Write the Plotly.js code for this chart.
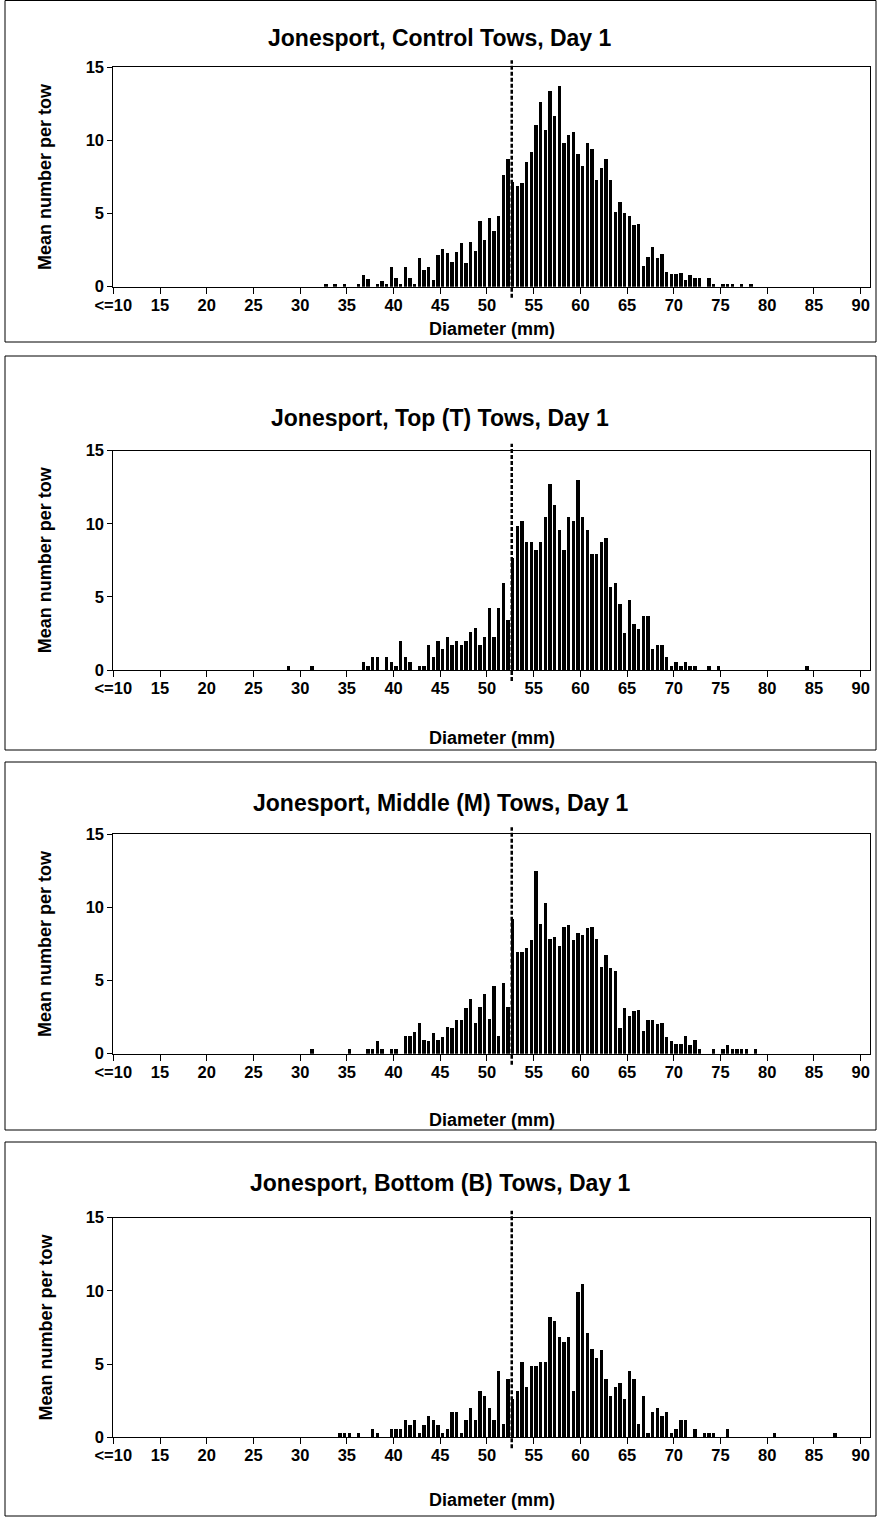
<!DOCTYPE html>
<html><head><meta charset="utf-8">
<script src="https://cdn.plot.ly/plotly-3.0.1.min.js"></script>
<style>html,body{margin:0;padding:0;background:#fff;}#chart{width:878px;height:1517px;}</style>
</head><body><div id="chart"></div>
<script>
// ---- data (mean number per tow, 0.5 mm diameter bins; only non-zero bins listed) ----
const tickValues = [10,15,20,25,30,35,40,45,50,55,60,65,70,75,80,85,90];
const tickLabels = ["<=10","15","20","25","30","35","40","45","50","55","60","65","70","75","80","85","90"];
const panelTitles = ["Jonesport, Control Tows, Day 1","Jonesport, Top (T) Tows, Day 1","Jonesport, Middle (M) Tows, Day 1","Jonesport, Bottom (B) Tows, Day 1"];
const yTitle = "Mean number per tow";
const xTitle = "Diameter (mm)";
const cutoffDiam = 52.4;

const controlDiam = [32.5,33.5,34.5,36,36.5,37,38,38.5,39,39.5,40,40.5,41,41.5,42,42.5,43,43.5,44,44.5,45,45.5,46,46.5,47,47.5,48,48.5,49,49.5,50,50.5,51,51.5,52,52.5,53,53.5,54,54.5,55,55.5,56,56.5,57,57.5,58,58.5,59,59.5,60,60.5,61,61.5,62,62.5,63,63.5,64,64.5,65,65.5,66,66.5,67,67.5,68,68.5,69,69.5,70,70.5,71,71.5,72,72.5,73.5,74,75,75.5,76,77,78];
const controlMean = [0.17,0.17,0.17,0.17,0.83,0.5,0.2,0.4,0.17,1.33,0.57,0.17,1.37,0.57,0.17,1.94,1.14,1.37,0.46,2.17,2.58,2.28,1.71,2.39,2.99,1.64,3.08,2.42,4.51,3.21,4.67,3.81,4.81,7.64,8.71,7.18,6.89,7.11,8.5,9.23,11.06,12.63,10.69,13.38,11.7,13.7,9.8,10.35,10.6,9.1,8.28,9.8,9.42,7.3,8.09,8.76,7.27,5.13,5.77,5.06,4.81,4.21,4.26,1.41,2.03,2.74,1.98,2.21,1.03,0.84,0.87,0.96,0.43,0.8,0.57,0.57,0.62,0.17,0.17,0.17,0.17,0.17,0.17];

const topDiam = [28.5,31,36.5,37,37.5,38,39,39.5,40,40.5,41,41.5,42.5,43,43.5,44,44.5,45,45.5,46,46.5,47,47.5,48,48.5,49,49.5,50,50.5,51,51.5,52,52.5,53,53.5,54,54.5,55,55.5,56,56.5,57,57.5,58,58.5,59,59.5,60,60.5,61,61.5,62,62.5,63,63.5,64,64.5,65,65.5,66,66.5,67,67.5,68,68.5,69,69.5,70,70.5,71,71.5,72,73.5,74.5,84];
const topMean = [0.29,0.29,0.57,0.29,0.86,0.86,0.86,0.57,0.29,2.0,0.86,0.57,0.29,0.29,1.71,0.86,2.0,1.43,2.29,1.71,2.0,1.71,2.0,2.57,2.86,1.71,2.29,4.26,2.29,4.26,5.93,3.4,7.68,9.87,10.17,8.76,8.76,8.19,8.76,10.44,12.72,11.29,9.6,8.19,10.44,10.17,12.97,10.44,9.6,7.91,7.91,8.76,9.03,5.68,5.93,4.54,2.55,4.81,3.12,2.83,3.69,3.69,1.41,1.69,1.69,0.86,0.29,0.57,0.29,0.57,0.29,0.29,0.29,0.29,0.29];

const middleDiam = [31,35,37,37.5,38,38.5,39.5,40,41,41.5,42,42.5,43,43.5,44,44.5,45,45.5,46,46.5,47,47.5,48,48.5,49,49.5,50,50.5,51,51.5,52,52.5,53,53.5,54,54.5,55,55.5,56,56.5,57,57.5,58,58.5,59,59.5,60,60.5,61,61.5,62,62.5,63,63.5,64,64.5,65,65.5,66,66.5,67,67.5,68,68.5,69,69.5,70,70.5,71,71.5,72,72.5,74,75,75.5,76,76.5,77,77.5,78.5];
const middleMean = [0.3,0.3,0.33,0.33,0.89,0.33,0.32,0.32,1.19,1.19,1.5,2.12,0.91,0.89,1.44,0.96,1.16,1.8,1.76,2.33,2.28,3.15,3.76,2.12,3.21,4.1,2.35,4.65,1.23,4.83,3.17,9.19,6.93,6.98,7.2,7.75,12.47,8.89,10.31,7.84,7.96,7.36,8.69,8.82,7.75,8.28,8.12,8.57,8.69,7.82,5.93,6.75,5.84,5.65,1.76,3.12,2.6,2.9,2.96,1.53,2.33,2.33,2.01,2.07,1.16,0.89,0.64,0.64,1.19,0.59,0.91,0.32,0.32,0.32,0.62,0.32,0.32,0.32,0.32,0.32];

const bottomDiam = [34,34.5,35,36,37.5,38,39.5,40,40.5,41,41.5,42,42.5,43,43.5,44,44.5,45,45.5,46,46.5,47,47.5,48,48.5,49,49.5,50,50.5,51,51.5,52,52.5,53,53.5,54,54.5,55,55.5,56,56.5,57,57.5,58,58.5,59,59.5,60,60.5,61,61.5,62,62.5,63,63.5,64,64.5,65,65.5,66,66.5,67,67.5,68,68.5,69,69.5,70,70.5,71,72,73,73.5,74,75.5,80.5,87];
const bottomMean = [0.29,0.29,0.29,0.29,0.58,0.29,0.58,0.58,0.58,1.16,0.87,1.16,0.29,0.87,1.45,1.16,0.87,0.29,0.58,1.74,1.74,0.29,1.16,2.03,1.16,3.15,2.85,2.03,1.16,4.56,0.89,3.99,2.6,3.15,5.13,3.42,4.86,4.86,5.13,5.13,8.23,7.93,6.84,6.54,6.84,3.15,9.92,10.49,7.11,6.0,5.43,5.97,3.99,2.85,3.42,3.74,2.6,4.56,3.99,0.89,2.85,0.29,1.74,2.03,1.45,1.74,0.29,0.58,1.16,1.16,0.58,0.29,0.29,0.29,0.58,0.29,0.29];

const seriesDiam = [controlDiam, topDiam, middleDiam, bottomDiam];
const seriesMean = [controlMean, topMean, middleMean, bottomMean];

// ---- layout geometry (pixels) ----
const W = 878, H = 1517;
const plotLeft = 113.3, plotRight = 870;
const plotTop = [67.3, 450.7, 834.3, 1217.7];
const plotBottom = [286.7, 670, 1053.7, 1437.3];
const titleY = [38, 418, 803, 1183];
const xTitleY = [329, 738, 1120, 1500];
const frames = [[5, 0.5, 876, 342], [5, 356, 876, 750], [5, 762, 876, 1130], [5, 1142, 876, 1516]];

const FONT = "Liberation Sans, Arial, sans-serif";
const px = v => v / W;
const py = v => 1 - v / H;

const traces = [];
const layout = {
  width: W, height: H,
  margin: {l: 0, r: 0, t: 0, b: 0},
  paper_bgcolor: "#fff", plot_bgcolor: "#fff",
  showlegend: false,
  bargap: 0,
  shapes: [], annotations: []
};

const boundaryTicks = tickValues.map(v => v - 0.25);

for (let k = 0; k < 4; k++) {
  const sx = k === 0 ? "" : String(k + 1);
  traces.push({
    type: "bar", x: seriesDiam[k], y: seriesMean[k],
    xaxis: "x" + sx, yaxis: "y" + sx,
    width: 0.36,
    marker: {color: "#000", line: {width: 0}},
    hoverinfo: "x+y"
  });
  layout["xaxis" + sx] = {
    domain: [px(plotLeft), px(plotRight)],
    anchor: "y" + sx,
    range: [9.75, 90.75],
    tickmode: "array", tickvals: boundaryTicks, ticktext: tickLabels,
    ticklabelshift: 2.3, ticklabelstandoff: -3,
    ticks: "outside", ticklen: 6, tickwidth: 1, tickcolor: "#000",
    showline: true, linecolor: "#000", linewidth: 1, mirror: true,
    showgrid: false, zeroline: false,
    tickfont: {family: FONT, size: 16.5, color: "#000", weight: "bold"},
    fixedrange: true
  };
  layout["yaxis" + sx] = {
    domain: [py(plotBottom[k]), py(plotTop[k])],
    anchor: "x" + sx,
    range: [0, 15],
    tickmode: "array", tickvals: [0, 5, 10, 15],
    ticks: "outside", ticklen: 5, tickwidth: 1, tickcolor: "#000",
    showline: true, linecolor: "#000", linewidth: 1, mirror: true,
    showgrid: false, zeroline: false,
    tickfont: {family: FONT, size: 16.5, color: "#000", weight: "bold"},
    fixedrange: true
  };
  const ph = plotBottom[k] - plotTop[k];
  layout.shapes.push({
    type: "line", xref: "x" + sx, yref: "y" + sx + " domain",
    x0: cutoffDiam, x1: cutoffDiam, y0: -11 / ph, y1: 1 + 7 / ph,
    line: {color: "#000", width: 2.5, dash: "4px,2px"}
  });
  const f = frames[k];
  layout.shapes.push({
    type: "rect", xref: "paper", yref: "paper",
    x0: px(f[0]), x1: px(f[2]), y0: py(f[3]), y1: py(f[1]),
    line: {color: "#000", width: 1}, fillcolor: "rgba(0,0,0,0)", layer: "below"
  });
  layout.annotations.push({
    xref: "paper", yref: "paper", x: px(440), y: py(titleY[k]),
    xanchor: "center", yanchor: "middle", showarrow: false,
    text: panelTitles[k], font: {family: FONT, size: 23, color: "#000", weight: "bold"}
  });
  layout.annotations.push({
    xref: "paper", yref: "paper", x: px(45), y: py((plotTop[k] + plotBottom[k]) / 2),
    xanchor: "center", yanchor: "middle", showarrow: false, textangle: -90,
    text: yTitle, font: {family: FONT, size: 18, color: "#000", weight: "bold"}
  });
  layout.annotations.push({
    xref: "paper", yref: "paper", x: px((plotLeft + plotRight) / 2), y: py(xTitleY[k]),
    xanchor: "center", yanchor: "middle", showarrow: false,
    text: xTitle, font: {family: FONT, size: 18, color: "#000", weight: "bold"}
  });
}

Plotly.newPlot("chart", traces, layout, {displayModeBar: false, staticPlot: true});
</script>
</body></html>
